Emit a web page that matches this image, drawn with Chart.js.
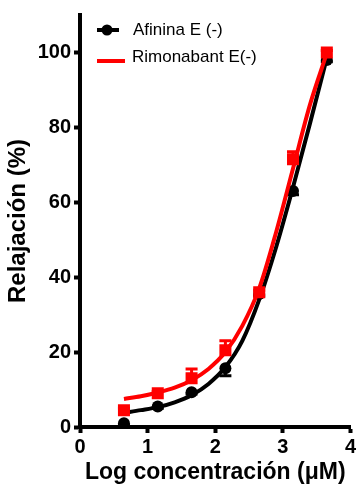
<!DOCTYPE html>
<html>
<head>
<meta charset="utf-8">
<script src="https://cdn.jsdelivr.net/npm/chart.js@4.4.1/dist/chart.umd.min.js"></script>
<style>
    html, body { margin: 0; padding: 0; background: #fff; }
    #wrap { width: 359px; height: 490px; position: relative; }
</style>
</head>
<body>
<div id="wrap"><canvas id="doseChart"></canvas></div>
<script>
// measured points (log concentration vs relaxation %)
const logConc = [0.65, 1.15, 1.65, 2.15, 2.65, 3.15, 3.65];
const afininaMean = [1, 5.5, 9.3, 15.7, 35.5, 63, 98];
const afininaErr = [0.5, 0.5, 0.5, 2, 0.5, 1, 0.5];   // drawn below
const rimonabantMean = [4.5, 9, 13, 20.5, 36, 71.5, 100];
const rimonabantErr = [0.5, 0.5, 2.5, 2.5, 0.5, 2, 0.5]; // drawn above

// fitted curves
const fitX = [0.65, 0.9, 1.15, 1.4, 1.65, 1.9, 2.15, 2.4, 2.65, 2.9, 3.15, 3.4, 3.65];
const afininaFit = [3.8, 4.5, 5.3, 6.6, 8.5, 11.5, 16, 23, 34, 48, 64, 81, 98.5];
const rimonabantFit = [7.5, 8.2, 9.2, 10.5, 12.5, 15.5, 20, 27, 37, 52, 69, 86, 99.8];

const xTicks = [0, 1, 2, 3, 4];
const seriesNames = ['Afinina E (-)', 'Rimonabant E(-)'];

function toPoints(xs, ys) {
    return xs.map(function (x, i) { return { x: x, y: ys[i] }; });
}

const errorBars = {
    id: 'errorBars',
    beforeDatasetsDraw: function (chart) {
        const ctx = chart.ctx;
        const xs = chart.scales.x, ys = chart.scales.y;
        // [means, errors, colour, direction]
        const sets = [[afininaMean, afininaErr, '#000', -1], [rimonabantMean, rimonabantErr, '#ff0000', 1]];
        ctx.save();
        sets.forEach(function (s) {
            ctx.strokeStyle = s[2];
            ctx.lineWidth = 3;
            logConc.forEach(function (x, i) {
                const px = xs.getPixelForValue(x);
                const mid = ys.getPixelForValue(s[0][i]);
                const end = ys.getPixelForValue(s[0][i] + s[3] * s[1][i]);
                ctx.beginPath();
                ctx.moveTo(px, mid); ctx.lineTo(px, end);
                ctx.moveTo(px - 6, end); ctx.lineTo(px + 6, end);
                ctx.stroke();
            });
        });
        ctx.restore();
    }
};

const insideLegend = {
    id: 'insideLegend',
    afterDraw: function (chart) {
        const ctx = chart.ctx;
        ctx.save();
        ctx.lineWidth = 4;
        ctx.strokeStyle = '#000';
        ctx.beginPath(); ctx.moveTo(97, 30); ctx.lineTo(119, 30); ctx.stroke();
        ctx.fillStyle = '#000';
        ctx.beginPath(); ctx.arc(107, 30, 5.5, 0, Math.PI * 2); ctx.fill();
        ctx.strokeStyle = '#ff0000';
        ctx.beginPath(); ctx.moveTo(97, 61); ctx.lineTo(125, 61); ctx.stroke();
        ctx.fillStyle = '#000';
        ctx.font = '17px "Liberation Sans", Arial, sans-serif';
        ctx.textBaseline = 'middle';
        ctx.fillText(seriesNames[0], 133, 30);
        ctx.fillText(seriesNames[1], 132, 57);
        ctx.restore();
    }
};

const tickFont = { family: '"Liberation Sans", Arial, sans-serif', size: 20, weight: 'bold' };

new Chart(document.getElementById('doseChart').getContext('2d'), {
    type: 'scatter',
    data: {
        datasets: [
            {
                label: seriesNames[1],
                data: toPoints(logConc, rimonabantMean),
                pointStyle: 'rect',
                pointRadius: 8.5,
                backgroundColor: '#ff0000',
                borderColor: '#ff0000',
                borderWidth: 0,
                order: 1
            },
            {
                type: 'line',
                data: toPoints(fitX, rimonabantFit),
                borderColor: '#ff0000',
                borderWidth: 4,
                pointRadius: 0,
                cubicInterpolationMode: 'monotone',
                fill: false,
                order: 2
            },
            {
                label: seriesNames[0],
                data: toPoints(logConc, afininaMean),
                pointStyle: 'circle',
                pointRadius: 6,
                backgroundColor: '#000',
                borderColor: '#000',
                borderWidth: 0,
                order: 3
            },
            {
                type: 'line',
                data: toPoints(fitX, afininaFit),
                borderColor: '#000',
                borderWidth: 4,
                pointRadius: 0,
                cubicInterpolationMode: 'monotone',
                fill: false,
                order: 4
            }
        ]
    },
    options: {
        responsive: true,
        maintainAspectRatio: false,
        animation: false,
        layout: { padding: { top: 15, right: 4, left: 0, bottom: 0 } },
        plugins: {
            legend: { display: false },
            tooltip: { enabled: false },
            title: { display: false }
        },
        scales: {
            x: {
                type: 'linear',
                min: 0,
                max: 4,
                afterFit: function (scale) { scale.height = 63; },
                border: { display: true, color: '#000', width: 4 },
                grid: { display: true, drawOnChartArea: false, drawTicks: true, tickLength: 6, tickWidth: 4, tickColor: '#000' },
                afterBuildTicks: function (scale) { scale.ticks = xTicks.map(function (v) { return { value: v }; }); },
                ticks: { color: '#000', font: tickFont, padding: 2, maxRotation: 0 },
                title: {
                    display: true,
                    text: 'Log concentración (μM)',
                    color: '#000',
                    font: { family: '"Liberation Sans", Arial, sans-serif', size: 23, weight: 'bold' },
                    padding: { top: 0, bottom: 4 }
                }
            },
            y: {
                type: 'linear',
                min: 0,
                max: 110,
                afterFit: function (scale) { scale.width = 80; },
                border: { display: true, color: '#000', width: 4 },
                grid: { display: true, drawOnChartArea: false, drawTicks: true, tickLength: 6, tickWidth: 4, tickColor: '#000' },
                ticks: { color: '#000', font: tickFont, stepSize: 20, includeBounds: false, padding: 3 },
                title: {
                    display: true,
                    text: 'Relajación (%)',
                    color: '#000',
                    font: { family: '"Liberation Sans", Arial, sans-serif', size: 24, weight: 'bold' },
                    padding: { top: 4, bottom: 0 }
                }
            }
        }
    },
    plugins: [errorBars, insideLegend]
});
</script>
</body>
</html>
